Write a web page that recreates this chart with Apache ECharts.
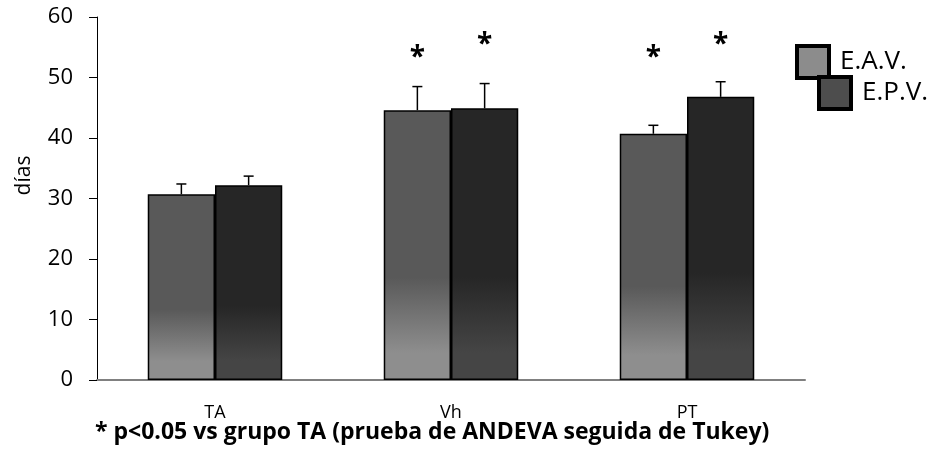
<!DOCTYPE html>
<html>
<head>
<meta charset="utf-8">
<script src="https://cdn.jsdelivr.net/npm/echarts@6/dist/echarts.min.js"></script>
<style>
html,body{margin:0;padding:0;background:#fff;}
#c{width:941px;height:457px;}
</style>
</head>
<body>
<div id="c"></div>
<script>
var categories = ['TA', 'Vh', 'PT'];
var eavMean = [30.7, 44.6, 40.7];
var eavErr  = [1.7, 3.9, 1.4];
var epvMean = [32.2, 44.9, 46.8];
var epvErr  = [1.5, 4.1, 2.5];
var eavStar = [null, 53.3, 53.3];
var epvStar = [null, 55.3, 55.3];
var yTicks = [0, 10, 20, 30, 40, 50, 60];
var seriesNames = ['E.A.V.', 'E.P.V.'];
var footnote = '* p<0.05 vs grupo TA (prueba de ANDEVA seguida de Tukey)';

var FONT = 'Open Sans';
var CAT_GAP = 0.43;

function grad(top, bottom) {
  return new echarts.graphic.LinearGradient(0, 0, 0, 1, [
    {offset: 0, color: top},
    {offset: 0.62, color: top},
    {offset: 0.9, color: bottom},
    {offset: 1, color: bottom}
  ]);
}

function errRender(sign) {
  return function (params, api) {
    var c = api.value(0);
    var base = api.coord([c, api.value(1)]);
    var top = api.coord([c, api.value(1) + api.value(2)]);
    var band = api.size([1, 0])[0];
    var bw = band * (1 - CAT_GAP) / 2;
    var cx = base[0] + sign * bw / 2;
    var st = {stroke: '#000', lineWidth: 1.5};
    return {type: 'group', children: [
      {type: 'line', shape: {x1: cx, y1: base[1], x2: cx, y2: top[1]}, style: st},
      {type: 'line', shape: {x1: cx - 5, y1: top[1], x2: cx + 5, y2: top[1]}, style: st}
    ]};
  };
}
function starRender(sign) {
  return function (params, api) {
    var v = api.value(1);
    if (v == null || isNaN(v)) return null;
    var p = api.coord([api.value(0), v]);
    var band = api.size([1, 0])[0];
    var bw = band * (1 - CAT_GAP) / 2;
    return {type: 'text', x: p[0] + sign * bw / 2, y: p[1],
      style: {text: '*', fill: '#000', font: 'bold 28px "' + FONT + '"', align: 'center', verticalAlign: 'middle'}};
  };
}

var chart = echarts.init(document.getElementById('c'), null, {renderer: 'canvas'});
chart.setOption({
  animation: false,
  backgroundColor: '#fff',
  grid: {left: 97, right: 136, top: 17, bottom: 77, containLabel: false},
  legend: [
    {left: 790, top: 39, itemWidth: 32, itemHeight: 32, icon: 'rect', selectedMode: false,
     data: [{name: seriesNames[0], itemStyle: {color: '#8c8c8c', borderColor: '#000', borderWidth: 4}}],
     textStyle: {fontFamily: FONT, fontSize: 26, color: '#000', padding: [0, 0, 0, 6]}},
    {left: 812, top: 70, itemWidth: 32, itemHeight: 32, icon: 'rect', selectedMode: false,
     data: [{name: seriesNames[1], itemStyle: {color: '#4d4d4d', borderColor: '#000', borderWidth: 4}}],
     textStyle: {fontFamily: FONT, fontSize: 26, color: '#000', padding: [0, 0, 0, 6]}}
  ],
  xAxis: {
    type: 'category', data: categories,
    axisTick: {show: false},
    axisLine: {lineStyle: {color: '#808080', width: 2}},
    axisLabel: {fontFamily: FONT, fontSize: 18, color: '#000', margin: 24}
  },
  yAxis: {
    type: 'value', min: 0, max: 60, interval: 10,
    name: 'días', nameLocation: 'middle', nameRotate: 90, nameGap: 62,
    nameTextStyle: {fontFamily: FONT, fontSize: 21, color: '#000', padding: [0, 0, 0, 46]},
    axisLine: {show: true, lineStyle: {color: '#000', width: 1}},
    axisTick: {show: true, inside: false, length: 8, lineStyle: {color: '#000'}},
    splitLine: {show: false},
    axisLabel: {fontFamily: FONT, fontSize: 22, color: '#000', margin: 24,
      formatter: function (v) { return yTicks.indexOf(v) >= 0 ? String(v) : ''; }}
  },
  series: [
    {name: seriesNames[0], type: 'bar', data: eavMean, barGap: 0, barCategoryGap: (CAT_GAP * 100) + '%',
     itemStyle: {color: grad('#595959', '#8e8e8e'), borderColor: '#000', borderWidth: 1.5}},
    {name: seriesNames[1], type: 'bar', data: epvMean, barGap: 0, barCategoryGap: (CAT_GAP * 100) + '%',
     itemStyle: {color: grad('#262626', '#454545'), borderColor: '#000', borderWidth: 1.5}},
    {type: 'custom', renderItem: errRender(-1), z: 5,
     data: categories.map(function (c, i) { return [i, eavMean[i], eavErr[i]]; })},
    {type: 'custom', renderItem: errRender(1), z: 5,
     data: categories.map(function (c, i) { return [i, epvMean[i], epvErr[i]]; })},
    {type: 'custom', renderItem: starRender(-1), z: 5,
     data: categories.map(function (c, i) { return [i, eavStar[i]]; })},
    {type: 'custom', renderItem: starRender(1), z: 5,
     data: categories.map(function (c, i) { return [i, epvStar[i]]; })}
  ],
  graphic: [
    {type: 'text', left: 95, top: 421,
     style: {text: footnote, fill: '#000', font: 'bold 23px "' + FONT + '"'}}
  ]
});
</script>
</body>
</html>
